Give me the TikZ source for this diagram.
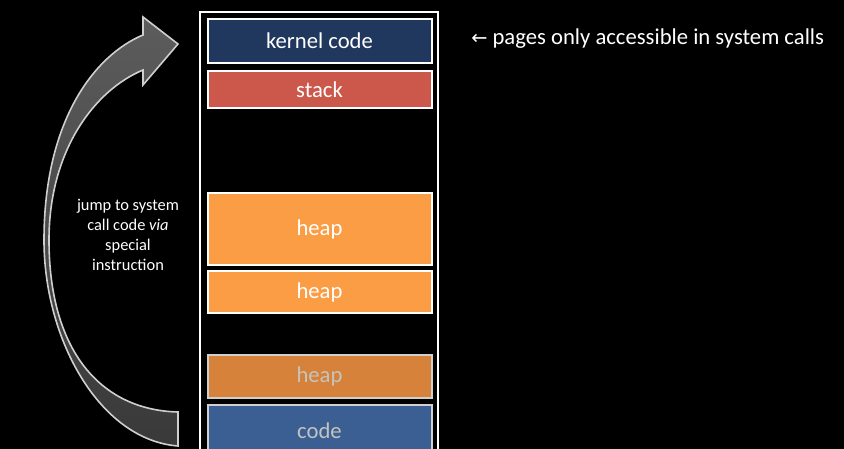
\documentclass[tikz,border=0pt]{standalone}
\usepackage{fontspec}
\setmainfont{Carlito}
\newfontfamily\arrowfont{DejaVu Sans}
\usetikzlibrary{calc}

\definecolor{kernelblue}{HTML}{20385E}
\definecolor{stackred}{HTML}{CB584A}
\definecolor{heaporange}{HTML}{FB9D44}
\definecolor{oldorange}{HTML}{D6823A}
\definecolor{codeblue}{HTML}{3B5F92}
\definecolor{fadedtext}{HTML}{C4C4BE}
\definecolor{fadedline}{HTML}{CFCFCF}
\definecolor{arrowtop}{HTML}{5C5C5C}
\definecolor{arrowmid}{HTML}{6A6A6A}
\definecolor{arrowbottom}{HTML}{393939}

\begin{document}
\begin{tikzpicture}[x=0.75pt, y=-0.75pt,
    seg/.style={draw=white, line width=1.5pt, text=white, minimum width=168pt,
        inner sep=0pt, font=\fontsize{17}{20}\selectfont},
    oldseg/.style={seg, draw=fadedline, text=fadedtext}]
    % Background
    \fill[black] (0,0) rectangle (844,449);
    \useasboundingbox (0,0) rectangle (844,449);

    % Address space outline
    \draw[white, line width=1.5pt] (200,470) -- (200,12) -- (438,12) -- (438,470);

    % Segments
    \node[seg, fill=kernelblue, minimum height=33pt] (kernel) at (319.5,41) {kernel code};
    \node[seg, fill=stackred, minimum height=27.75pt] (stack) at (319.5,89.5) {stack};
    \node[seg, fill=heaporange, minimum height=54pt] (heapa) at (319.5,229) {heap};
    \node[seg, fill=heaporange, minimum height=31.5pt] (heapb) at (319.5,292) {heap};
    \node[oldseg, fill=oldorange, minimum height=32.25pt] (heapc) at (319.5,376.5) {heap};
    \node[oldseg, fill=codeblue, minimum height=39pt] (code) at (319.5,431) {code};

    % Note on kernel pages
    \node[anchor=west, text=white, inner sep=0pt, font=\fontsize{17}{20}\selectfont] (note)
        at (471,39) {{\arrowfont\fontsize{14.5}{20}\selectfont ←} pages only accessible in system calls};

    % Curved jump arrow
    \shadedraw[top color=arrowtop, middle color=arrowmid, bottom color=arrowbottom,
        draw=fadedline, line width=1.2pt, line join=miter]
        (178,446) .. controls (100,440) and (44,340) .. (44,240)
        .. controls (44,120) and (95,55) .. (143,35)
        -- (143,17) -- (178,44) -- (143,85) -- (143,70)
        .. controls (95,90) and (49,150) .. (49,240)
        .. controls (49,350) and (100,410) .. (178,412) -- cycle;

    % Arrow label
    \node[align=center, text=white, font=\fontsize{12.3}{15}\selectfont] (jump) at (128,235)
        {jump to system\\call code \textit{via}\\special\\instruction};
\end{tikzpicture}
\end{document}
